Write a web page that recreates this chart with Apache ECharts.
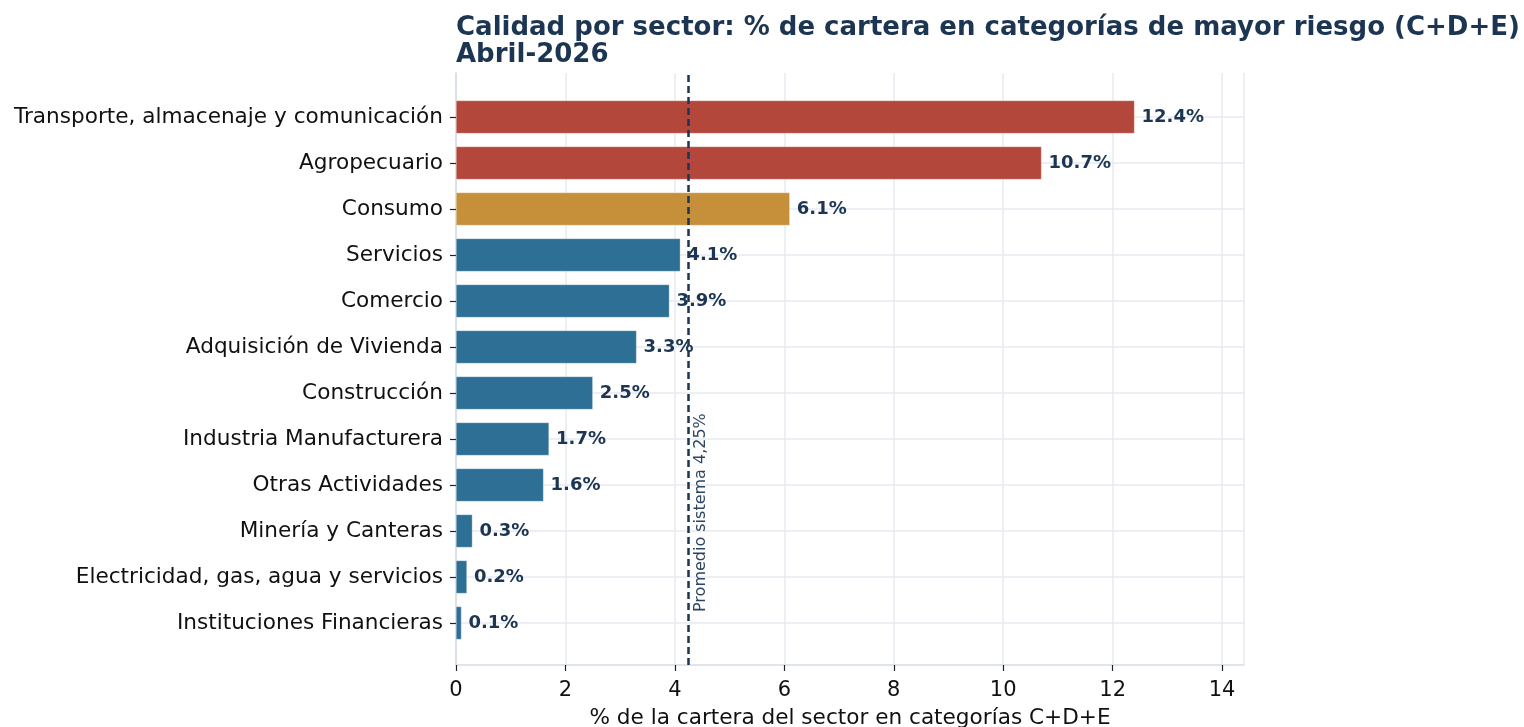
<!DOCTYPE html>
<html>
<head>
<meta charset="utf-8">
<script src="https://cdn.jsdelivr.net/npm/echarts@6/dist/echarts.min.js"></script>
<style>html,body{margin:0;padding:0;background:#fff;}#c{width:1524px;height:727px;}</style>
</head>
<body>
<div id="c"></div>
<script>
const categories = [
  'Transporte, almacenaje y comunicación',
  'Agropecuario',
  'Consumo',
  'Servicios',
  'Comercio',
  'Adquisición de Vivienda',
  'Construcción',
  'Industria Manufacturera',
  'Otras Actividades',
  'Minería y Canteras',
  'Electricidad, gas, agua y servicios',
  'Instituciones Financieras'
];
const values = [12.4, 10.7, 6.1, 4.1, 3.9, 3.3, 2.5, 1.7, 1.6, 0.3, 0.2, 0.1];
const systemAverage = 4.25;
const xTicks = [0, 2, 4, 6, 8, 10, 12, 14];

const FONT = 'DejaVu Sans';
const NAVY = '#1b3552';
const RED = '#b4473c', GOLD = '#c6903a', BLUE = '#2e6f96';
function barColor(v) { return v >= 8 ? RED : (v >= 5 ? GOLD : BLUE); }

const chart = echarts.init(document.getElementById('c'), null, {renderer: 'canvas'});
chart.setOption({
  backgroundColor: '#ffffff',
  animation: false,
  title: {
    text: 'Calidad por sector: % de cartera en categorías de mayor riesgo (C+D+E)\nAbril-2026',
    left: 456, top: 15, padding: 0,
    textStyle: {fontFamily: FONT, fontSize: 26, fontWeight: 'bold', color: NAVY, lineHeight: 27}
  },
  grid: [
    {left: 456, right: 280, top: 117, bottom: 104, containLabel: false, outerBoundsMode: 'none'},
    {left: 456, right: 280, top: 73, bottom: 62, containLabel: false, outerBoundsMode: 'none'}
  ],
  xAxis: [
    {gridIndex: 0, type: 'value', min: 0, max: 14.4, show: false},
    {gridIndex: 1, type: 'value', min: 0, max: 14.4, interval: 2,
     name: '% de la cartera del sector en categorías C+D+E',
     nameLocation: 'middle', nameGap: 42,
     nameTextStyle: {fontFamily: FONT, fontSize: 21.6, color: '#111'},
     axisLine: {show: true, lineStyle: {color: '#d6dde5', width: 1.5}},
     axisTick: {show: true, length: 6, lineStyle: {color: '#222', width: 1.2}},
     axisLabel: {fontFamily: FONT, fontSize: 21, color: '#111', margin: 15,
       showMaxLabel: false,
       formatter: v => xTicks.indexOf(v) >= 0 ? String(v) : ''},
     splitLine: {show: true, lineStyle: {color: '#e6ebf0', width: 1.5}}
    }
  ],
  yAxis: [
    {gridIndex: 0, type: 'category', data: categories, inverse: true, boundaryGap: false,
     axisLine: {show: false},
     axisTick: {show: true, length: 6, lineStyle: {color: '#222', width: 1.2}},
     axisLabel: {fontFamily: FONT, fontSize: 21.6, color: '#111', margin: 13, align: 'right',
       padding: [7, 0, 0, 0]},
     splitLine: {show: true, lineStyle: {color: '#e6ebf0', width: 1.5}}
    },
    {gridIndex: 1, type: 'value', min: 0, max: 1,
     axisLine: {show: true, lineStyle: {color: '#d6dde5', width: 1.5}},
     axisTick: {show: false}, axisLabel: {show: false}, splitLine: {show: false}
    }
  ],
  series: [
    {
      type: 'bar', xAxisIndex: 0, yAxisIndex: 0, barWidth: 33, clip: false,
      data: values.map(v => ({value: v, itemStyle: {color: barColor(v)}})),
      itemStyle: {borderColor: 'rgba(255,255,255,0.6)', borderWidth: 0.5},
      label: {show: true, position: 'right', distance: 7,
        fontFamily: FONT, fontSize: 18, fontWeight: 'bold', color: NAVY,
        formatter: p => p.value.toFixed(1) + '%'},
      z: 2
    },
    {
      type: 'line', xAxisIndex: 1, yAxisIndex: 1, data: [],
      markLine: {
        silent: true, symbol: ['none', 'none'], animation: false,
        lineStyle: {type: [7, 4], color: NAVY, width: 2.5},
        label: {show: true, position: 'insideStartBottom', distance: [53, 4],
          formatter: 'Promedio sistema 4,25%',
          fontFamily: FONT, fontSize: 16, color: '#2c4662'},
        data: [{xAxis: systemAverage}]
      },
      z: 5
    }
  ]
});
</script>
</body>
</html>
